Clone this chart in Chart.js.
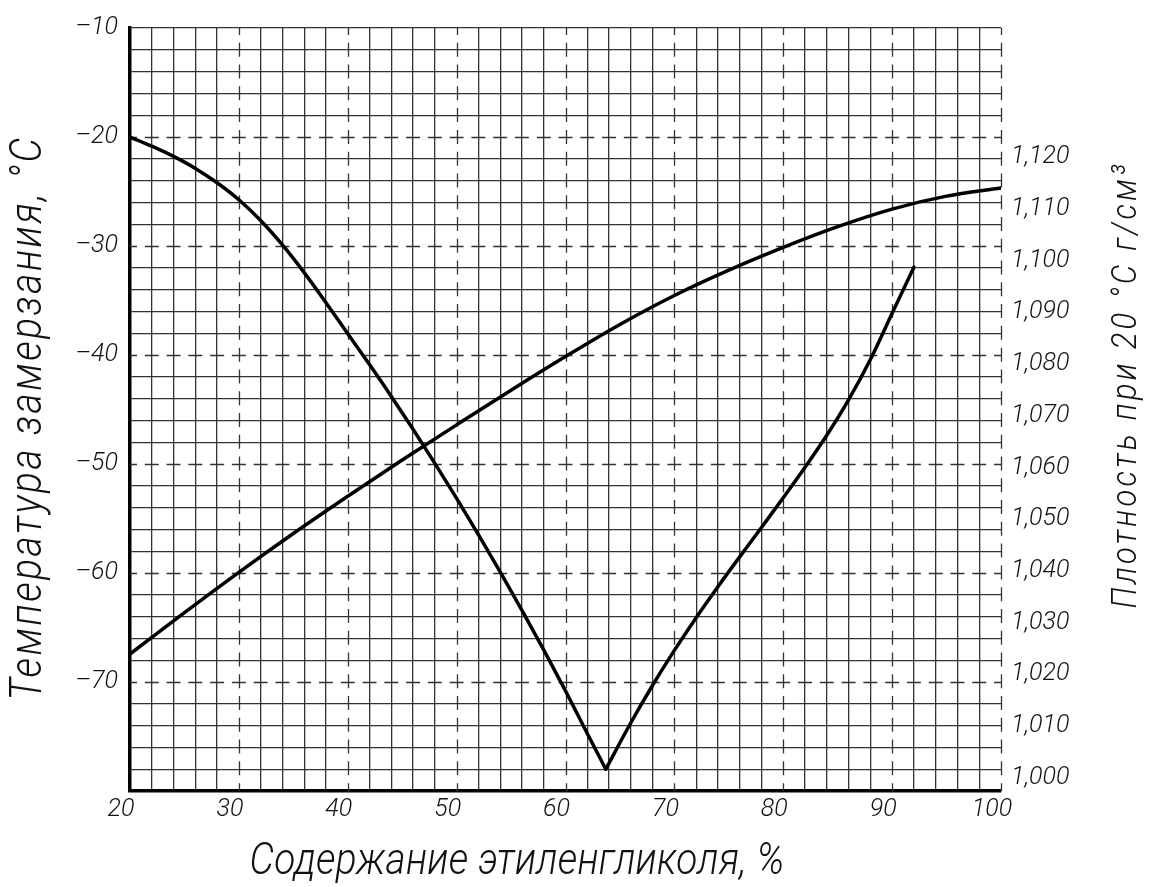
<!DOCTYPE html>
<html>
<head>
<meta charset="utf-8">
<script src="https://cdn.jsdelivr.net/npm/chart.js@4.4.1/dist/chart.umd.min.js"></script>
<style>
  html, body { margin: 0; padding: 0; background: #fff; }
  canvas { display: block; }
</style>
</head>
<body>
<canvas id="c" width="1157" height="887"></canvas>
<script>
// ---- data ----
// freezing point, branch falling to the eutectic point
const freezeConcA = [20,22,24,26,28,30,32,34,36,38,40,42,44,46,48,50,52,54,56,58,60,62,63.7];
const freezeTempA = [-20.0,-20.84,-21.78,-22.88,-24.2,-25.76,-27.66,-29.9,-32.44,-35.2,-38.04,-40.88,-43.8,-46.82,-49.94,-53.16,-56.48,-59.9,-63.42,-67.06,-70.82,-74.72,-78.0];
// freezing point, branch rising from the eutectic point
const freezeConcB = [63.7,66,68,70,72,74,76,78,80,82,84,86,88,90,92];
const freezeTempB = [-78.0,-73.74,-70.3,-67.1,-64.1,-61.26,-58.52,-55.82,-53.1,-50.3,-47.36,-44.12,-40.42,-36.18,-31.94];

// density at 20 °C
const densityConc = [20,25,30,35,40,45,50,55,60,65,70,75,80,85,90,95,100];
const densityVal  = [1.0239,1.0319,1.0397,1.0472,1.0544,1.0614,1.0682,1.0749,1.0814,1.0876,1.0932,1.0981,1.1025,1.1065,1.1099,1.1124,1.1140];

const xTickLabels = [20,30,40,50,60,70,80,90,100];
const tempTickLabels = [-10,-20,-30,-40,-50,-60,-70];
const densityTicks = [1.000,1.010,1.020,1.030,1.040,1.050,1.060,1.070,1.080,1.090,1.100,1.110,1.120];

const xTitle = 'Содержание этиленгликоля, %';
const yTitle = 'Температура замерзания, °С';
const y2Title = 'Плотность при 20 °С г/см³';

// ---- styling ----
const FAMILY = 'Roboto, "DejaVu Sans Condensed", sans-serif';
const tickFont = { family: FAMILY, size: 25, style: 'italic', weight: 300 };
const INK = '#111';
const GRID = '#333';
const near = (a, b) => Math.abs(a - b) < 1e-6;
const dashedX = v => xTickLabels.some(t => near(t, v)) && !near(v, 20);
const dashedY = v => tempTickLabels.some(t => near(t, v)) && !near(v, -10);

const dashedGridPlugin = {
  id: 'dashedGrid',
  beforeDatasetsDraw(chart) {
    const { ctx, chartArea: a, scales } = chart;
    ctx.save();
    ctx.strokeStyle = GRID;
    ctx.lineWidth = 1.3;
    ctx.setLineDash([14, 7.775]);
    ctx.lineDashOffset = 7;
    xTickLabels.filter(v => dashedX(v)).forEach(v => {
      const p = Math.round(scales.x.getPixelForValue(v)) + 0.5;
      ctx.beginPath(); ctx.moveTo(p, a.top); ctx.lineTo(p, a.bottom); ctx.stroke();
    });
    tempTickLabels.filter(v => dashedY(v)).forEach(v => {
      const p = Math.round(scales.y.getPixelForValue(v)) + 0.5;
      ctx.beginPath(); ctx.moveTo(a.left, p); ctx.lineTo(a.right, p); ctx.stroke();
    });
    ctx.restore();
  }
};

const titlePlugin = {
  id: 'titles',
  afterDraw(chart) {
    const ctx = chart.ctx;
    function draw(text, cx, cy, size, target, rot) {
      ctx.save();
      ctx.font = 'italic 300 ' + size + 'px ' + FAMILY;
      ctx.fillStyle = INK;
      ctx.textAlign = 'center';
      ctx.textBaseline = 'middle';
      ctx.translate(cx, cy);
      if (rot) ctx.rotate(rot);
      const w = ctx.measureText(text).width;
      let sx = 0.88;
      let ls = (target / sx - w) / text.length;
      if (ls < 0) { ls = 0; sx = target / w; }
      ctx.letterSpacing = ls.toFixed(2) + 'px';
      ctx.scale(sx, 1);
      ctx.fillText(text, 0, 0);
      ctx.restore();
    }
    draw(xTitle, 517, 863, 44, 535, 0);
    draw(yTitle, 30, 418, 44, 565, -Math.PI / 2);
    draw(y2Title, 1127, 385, 35, 447, -Math.PI / 2);
  }
};

const lineStyle = {
  borderColor: '#000',
  borderWidth: 3.5,
  pointRadius: 0,
  cubicInterpolationMode: 'monotone',
  borderCapStyle: 'round',
  borderJoinStyle: 'round'
};

new Chart(document.getElementById('c'), {
  type: 'line',
  data: {
    datasets: [
      Object.assign({
        label: 'Температура замерзания',
        data: freezeConcA.map((x, i) => ({ x, y: freezeTempA[i] })),
        yAxisID: 'y'
      }, lineStyle),
      Object.assign({
        label: 'Температура замерзания (2)',
        data: freezeConcB.map((x, i) => ({ x, y: freezeTempB[i] })),
        yAxisID: 'y'
      }, lineStyle),
      Object.assign({
        label: 'Плотность',
        data: densityConc.map((x, i) => ({ x, y: densityVal[i] })),
        yAxisID: 'y2'
      }, lineStyle)
    ]
  },
  options: {
    responsive: false,
    animation: false,
    devicePixelRatio: 1,
    layout: { padding: { top: 28, left: 0, right: 0, bottom: 0 } },
    plugins: { legend: { display: false }, tooltip: { enabled: false } },
    scales: {
      x: {
        type: 'linear',
        min: 20, max: 100,
        afterFit(s) { s.height = 96; },
        ticks: {
          stepSize: 2, autoSkip: false, maxRotation: 0, minRotation: 0,
          font: tickFont, color: INK, padding: 4, labelOffset: -9,
          callback: v => xTickLabels.some(t => near(t, v)) ? String(Math.round(v)) : ''
        },
        grid: {
          color: c => (c.tick && dashedX(c.tick.value)) ? 'rgba(0,0,0,0)' : GRID,
          lineWidth: 1.3, drawTicks: false
        },
        border: { display: true, color: '#000', width: 3.5 }
      },
      y: {
        position: 'left',
        min: -80, max: -10,
        afterFit(s) { s.width = 130; },
        ticks: {
          stepSize: 2, autoSkip: false,
          font: tickFont, color: INK, padding: 12,
          callback: v => tempTickLabels.some(t => near(t, v)) ? String(Math.round(v)).replace('-', '–') : ''
        },
        grid: {
          color: c => (c.tick && dashedY(c.tick.value)) ? 'rgba(0,0,0,0)' : GRID,
          lineWidth: 1.3, drawTicks: false
        },
        border: { display: true, color: '#000', width: 3.5 }
      },
      y2: {
        position: 'right',
        min: 0.99743, max: 1.1449,
        afterFit(s) { s.width = 156; },
        afterBuildTicks(s) { s.ticks = densityTicks.map(v => ({ value: v })); },
        ticks: {
          autoSkip: false,
          font: tickFont, color: INK, padding: 10,
          callback: v => v.toFixed(3).replace('.', ',')
        },
        grid: { display: false, drawTicks: false },
        border: { display: false }
      }
    }
  },
  plugins: [dashedGridPlugin, titlePlugin]
});
</script>
</body>
</html>
